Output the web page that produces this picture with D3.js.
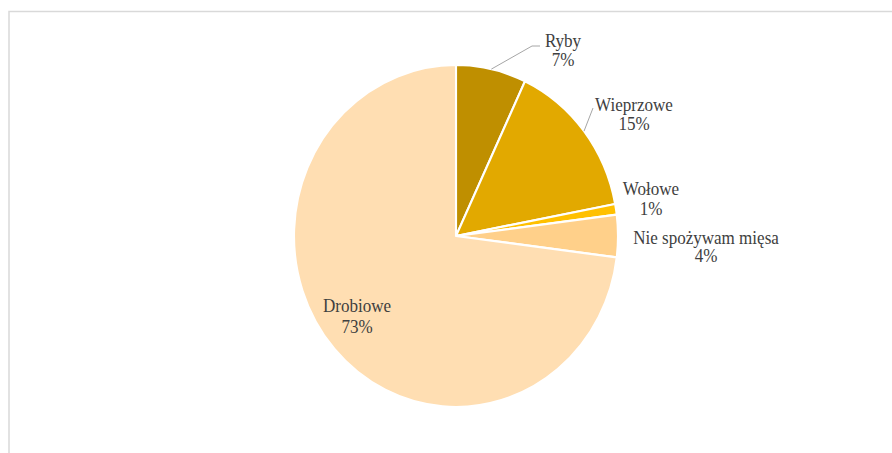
<!DOCTYPE html>
<html>
<head>
<meta charset="utf-8">
<script src="https://cdn.jsdelivr.net/npm/d3@7"></script>
<style>
  html, body { margin: 0; padding: 0; background: #ffffff; }
  svg { display: block; }
  .lbl { font-family: "Liberation Serif", "Times New Roman", serif; font-size: 18px; fill: #404040; }
</style>
</head>
<body>
<svg id="chart" width="892" height="453"></svg>
<script>
// Rodzaj mięsa spożywanego najczęściej (udział odpowiedzi, %)
const categories = ["Ryby", "Wieprzowe", "Wołowe", "Nie spożywam mięsa", "Drobiowe"];
const shares = [7, 15, 1, 4, 73];
const sliceColors = ["#bf8f00", "#e2a900", "#ffc000", "#ffd08a", "#ffdeb2"];

// Label anchors (screen px: centre x, first baseline y) and leader-line ends
const labelLayout = {
  "Ryby":               { x: 563, y: 47,  gap: 19.5, leader: [[532, 46], [540, 46]] },
  "Wieprzowe":          { x: 634, y: 111, gap: 19,   leader: [[593, 108]] },
  "Wołowe":             { x: 651, y: 195, gap: 20,   leader: null },
  "Nie spożywam mięsa": { x: 706, y: 243.5, gap: 19, leader: null },
  "Drobiowe":           { x: 357, y: 312, gap: 21,   leader: null }
};

const svg = d3.select("#chart");
const cx = 456, cy = 236;
const ry = 171, rx = 162;           // the plot is drawn slightly taller than wide
const sx = rx / ry;

// Chart area frame (top and left edges)
svg.append("path")
  .attr("d", "M9,453 V11.5 H892")
  .attr("fill", "none")
  .attr("stroke", "#d9d9d9")
  .attr("stroke-width", 1.5);

const data = categories.map((c, i) => ({ name: c, value: shares[i], color: sliceColors[i] }));

const pie = d3.pie().value(d => d.value).sort(null);
const arcs = pie(data);
const arc = d3.arc().innerRadius(0).outerRadius(ry);

const g = svg.append("g")
  .attr("transform", `translate(${cx},${cy}) scale(${sx},1)`);

g.selectAll("path.slice")
  .data(arcs)
  .join("path")
  .attr("class", "slice")
  .attr("d", arc)
  .attr("fill", d => d.data.color)
  .attr("stroke", "#ffffff")
  .attr("stroke-width", 2.2)
  .attr("stroke-linejoin", "round");

// screen position of a point on the outer edge at the slice's middle angle
function edgePoint(d) {
  const a = (d.startAngle + d.endAngle) / 2;
  return [cx + rx * Math.sin(a), cy - ry * Math.cos(a)];
}

// Leader lines
arcs.forEach(d => {
  const L = labelLayout[d.data.name];
  if (!L.leader) return;
  const pts = [edgePoint(d)].concat(L.leader);
  svg.append("path")
    .attr("d", d3.line()(pts))
    .attr("fill", "none")
    .attr("stroke", "#a6a6a6")
    .attr("stroke-width", 1);
});

// Category and percentage labels
const fmt = v => `${v}%`;
arcs.forEach(d => {
  const L = labelLayout[d.data.name];
  const t = svg.append("g")
    .attr("transform", `translate(${L.x},${L.y}) scale(${sx},1)`);
  const txt = t.append("text")
    .attr("class", "lbl")
    .attr("text-anchor", "middle");
  txt.append("tspan").attr("x", 0).attr("y", 0).text(d.data.name);
  txt.append("tspan").attr("x", 0).attr("y", L.gap).text(fmt(d.data.value));
});
</script>
</body>
</html>
